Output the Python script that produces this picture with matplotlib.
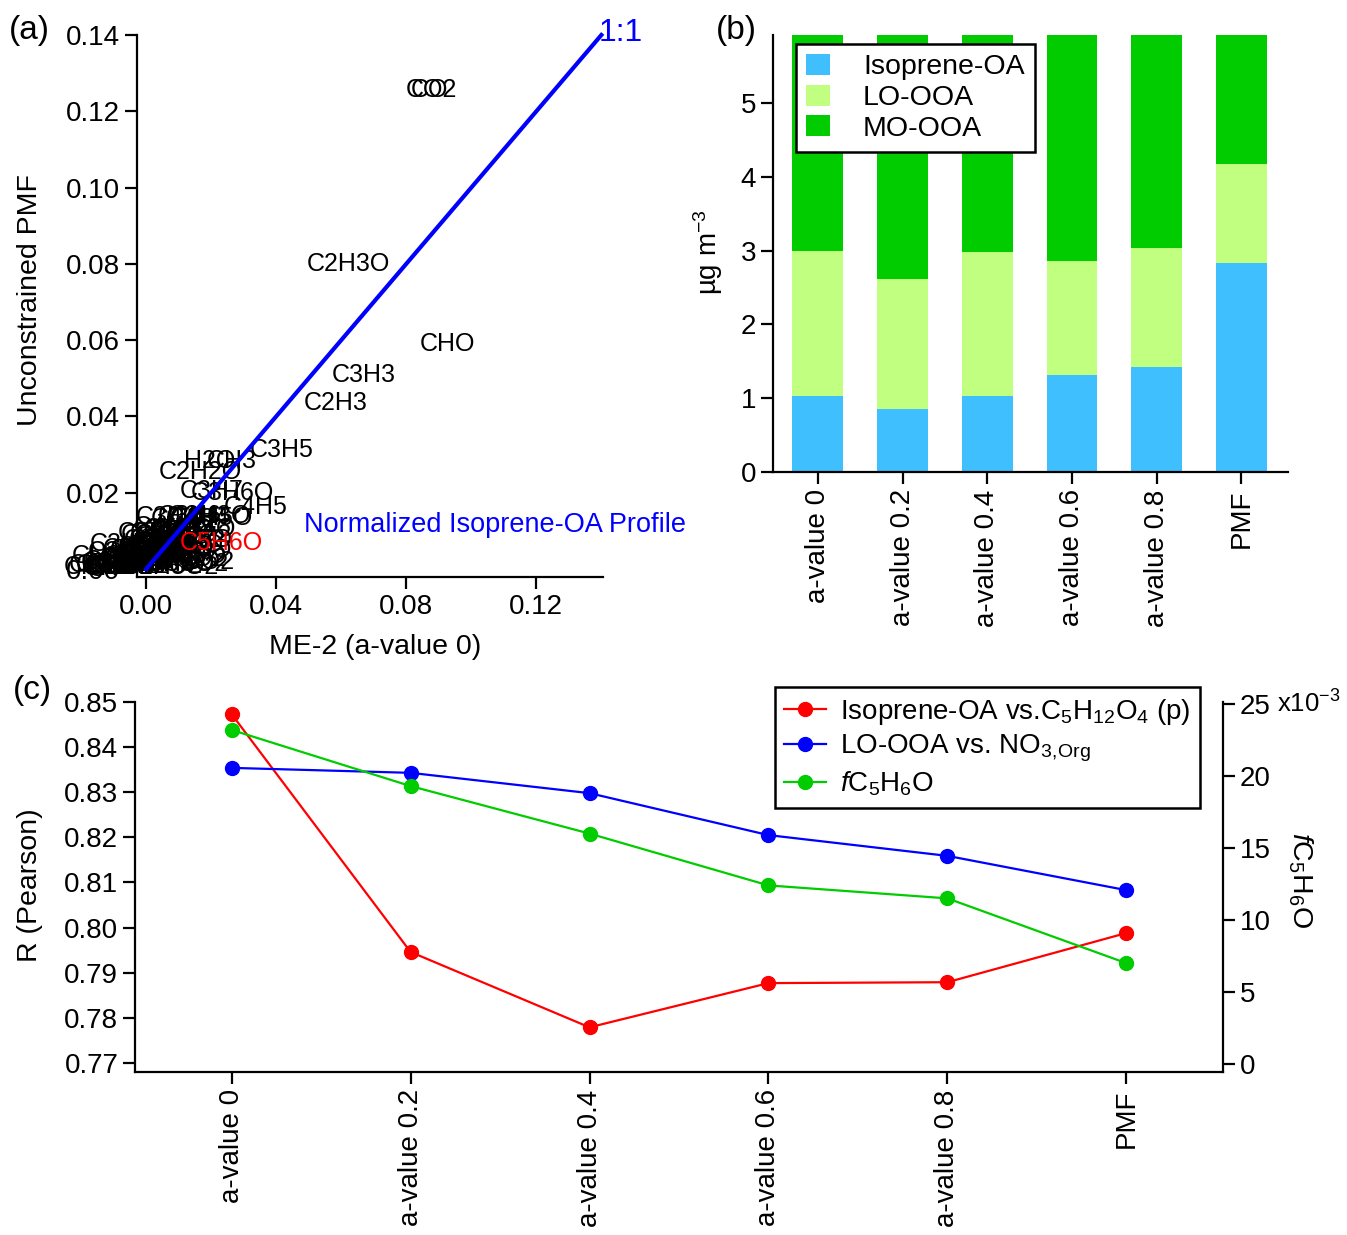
import numpy as np
import matplotlib
matplotlib.use("Agg")
import matplotlib.pyplot as plt

# ---------------- data ----------------
# panel (a): ion labels, ME-2 (a-value 0) vs unconstrained PMF profile
ions = ["CO2", "CO", "C2H3O", "CHO", "C3H3", "C2H3", "C3H5", "H2O", "CH3",
        "C2H2O", "C3H7", "C3H6O", "C4H5", "C3H4", "C4H3", "C3H6", "C4H4",
        "C3H3O", "C3H5O", "C4H6", "C5H7", "C4H4O", "C3H4O", "C6H7",
        "C", "CH", "O", "HO", "CH2", "C2", "C2H", "CHO2", "C2H2", "C3H",
        "CH2O", "C3H2", "C2H4", "CH3O", "C2H5", "C4H", "C4H2", "C3H8",
        "C2O2", "C3H2O", "C4H8", "C2H2O2", "C4H9", "C3H7O", "C5H9",
        "C4H5O", "C6H5", "C2H3O2", "C5H4O", "C6H9", "C7H7", "C4H6O",
        "C5H8O", "C4H3O", "C5H5O", "C4H6O2", "C3H4O2", "C6H6O", "C3O2",
        "C2HO", "CH4O",
        "C5H6", "C5H3", "C6H", "C4H7O", "C5H7O", "C3H5O2", "C6H8", "C7H9",
        "C5H10", "C4H4O2", "C6H5O", "C3H3O2", "C8H9", "C2H4O", "C5H6O2",
        "C7H8", "CH2O2", "C3HO", "C4HO", "CH4", "O2",
        "C5H6O"]
me2_x = [0.0878, 0.0870, 0.0622, 0.0926, 0.0668, 0.0582, 0.0417, 0.0196, 0.0264,
         0.0166, 0.0202, 0.0264, 0.0337, 0.0067, 0.0113, 0.0135, 0.0159,
         0.0196, 0.0202, 0.0060, 0.0110, 0.0150, 0.0040, 0.0120,
         -0.0160, -0.0140, -0.0150, -0.0120, -0.0110, -0.0095, -0.0080, -0.0070, -0.0060, -0.0055,
         -0.0045, -0.0040, -0.0030, -0.0020, -0.0010, -0.0005, 0.0000, 0.0005,
         0.0010, 0.0015, 0.0020, 0.0025, 0.0030, 0.0035, 0.0040,
         0.0045, 0.0050, 0.0074, 0.0060, 0.0065, 0.0070, 0.0080,
         0.0085, 0.0135, 0.0120, 0.0095, 0.0100, 0.0110, -0.0100,
         -0.0130, -0.0085,
         0.0012, -0.0035, -0.0065, 0.0055, 0.0090, 0.0105, 0.0030, 0.0065,
         -0.0015, 0.0115, 0.0140, -0.0025, 0.0020, -0.0050, 0.0125,
         0.0048, -0.0100, -0.0075, 0.0100, -0.0175, -0.0165,
         0.0230]
pmf_y = [0.1255, 0.1255, 0.0800, 0.0590, 0.0508, 0.0434, 0.0313, 0.0282, 0.0282,
         0.0253, 0.0205, 0.0200, 0.0163, 0.0137, 0.0132, 0.0140, 0.0134,
         0.0138, 0.0134, 0.0110, 0.0100, 0.0105, 0.0095, 0.0085,
         0.0002, 0.0003, 0.0001, 0.0004, 0.0006, 0.0005, 0.0010, 0.0008, 0.0015, 0.0020,
         0.0012, 0.0025, 0.0030, 0.0018, 0.0035, 0.0040, 0.0028, 0.0012,
         0.0045, 0.0050, 0.0033, 0.0008, 0.0055, 0.0022, 0.0060,
         0.0038, 0.0065, 0.0006, 0.0042, 0.0028, 0.0070, 0.0052,
         0.0016, 0.0050, 0.0035, 0.0075, 0.0025, 0.0062, 0.0015,
         0.0010, 0.0022,
         0.0058, 0.0008, 0.0030, 0.0020, 0.0045, 0.0012, 0.0075, 0.0085,
         0.0052, 0.0090, 0.0075, 0.0065, 0.0090, 0.0045, 0.0018,
         0.0095, 0.0035, 0.0005, 0.0105, 0.0004, 0.0010,
         0.0068]
highlight_ion = "C5H6O"

# panel (b): factor mass concentrations (ug m-3)
runs = ["a-value 0", "a-value 0.2", "a-value 0.4", "a-value 0.6", "a-value 0.8", "PMF"]
isoprene_oa = [1.03, 0.85, 1.03, 1.31, 1.42, 2.83]
lo_ooa = [1.96, 1.76, 1.95, 1.55, 1.61, 1.34]
mo_ooa = [3.20, 3.60, 3.20, 3.40, 3.20, 2.00]

# panel (c): correlations and fC5H6O
r_iso_c5h12o4 = [0.8473, 0.7946, 0.7779, 0.7877, 0.7879, 0.7988]
r_looa_no3org = [0.8354, 0.8343, 0.8298, 0.8205, 0.8159, 0.8083]
f_c5h6o = [0.0232, 0.0193, 0.0160, 0.0124, 0.0115, 0.0070]

# ---------------- style ----------------
FAM = ["Liberation Sans", "DejaVu Sans"]
plt.rcParams.update({
    "font.family": FAM,
    "font.size": 20,
    "mathtext.fontset": "custom",
    "mathtext.rm": "Liberation Sans",
    "mathtext.it": "Liberation Sans:italic",
    "mathtext.bf": "Liberation Sans:bold",
    "axes.linewidth": 1.6,
    "xtick.major.width": 1.6,
    "ytick.major.width": 1.6,
    "xtick.major.size": 8.5,
    "ytick.major.size": 8.5,
    "xtick.major.pad": 4,
    "ytick.major.pad": 3.5,
    "xtick.direction": "out",
    "ytick.direction": "out",
})

W, H = 1347, 1235
fig = plt.figure(figsize=(W / 100, H / 100), dpi=100)


def px_axes(l, r, t, b):
    return fig.add_axes([l / W, 1 - b / H, (r - l) / W, (b - t) / H])


# ---------------- panel (a) ----------------
axA = px_axes(137, 603, 35, 577)
for name, xv, yv in zip(ions, me2_x, pmf_y):
    red = name == highlight_ion
    axA.text(xv, yv, name, ha="center", va="center", fontsize=18,
             color="red" if red else "black", clip_on=False,
             zorder=6 if red else 3)
axA.plot([0, 0.14], [0, 0.14], color="#0000FF", lw=3, zorder=5, clip_on=False)
axA.text(0.1392, 0.1405, "1:1", color="#0000FF", fontsize=23, ha="left",
         va="center", clip_on=False)
axA.text(0.1073, 0.0116, "Normalized Isoprene-OA Profile", color="#0000FF",
         fontsize=19.5, ha="center", va="center")
axA.set_xlim(-0.0028, 0.1405)
axA.set_ylim(-0.0021, 0.14)
axA.set_xticks([0, 0.04, 0.08, 0.12])
axA.set_xticklabels(["0.00", "0.04", "0.08", "0.12"])
axA.set_yticks(np.arange(0, 0.141, 0.02))
axA.set_yticklabels(["%.2f" % v for v in np.arange(0, 0.141, 0.02)])
for s in ("top", "right"):
    axA.spines[s].set_visible(False)
fig.text(375 / W, 1 - 647 / H, "ME-2 (a-value 0)", ha="center", va="center",
         fontsize=20.5)
fig.text(30 / W, 1 - 300 / H, "Unconstrained PMF", ha="center", va="center",
         rotation=90, fontsize=20.5)

# ---------------- panel (b) ----------------
axB = px_axes(773, 1288, 35, 472)
xb = np.arange(len(runs))
c_iso, c_lo, c_mo = "#40BFFF", "#C0FF80", "#00CC00"
axB.bar(xb, isoprene_oa, 0.6, color=c_iso, label="Isoprene-OA")
axB.bar(xb, lo_ooa, 0.6, bottom=isoprene_oa, color=c_lo, label="LO-OOA")
axB.bar(xb, mo_ooa, 0.6, bottom=np.add(isoprene_oa, lo_ooa), color=c_mo,
        label="MO-OOA")
axB.set_xlim(-0.53, 5.55)
axB.set_ylim(0, 5.92)
axB.set_yticks(range(0, 6))
axB.set_xticks(xb)
axB.set_xticklabels(runs, rotation=90)
for s in ("top", "right"):
    axB.spines[s].set_visible(False)
legB = axB.legend(loc="upper left", bbox_to_anchor=(0.0447, 0.979),
                  frameon=True, fancybox=False, framealpha=1, edgecolor="black",
                  handlelength=0.85, handleheight=0.75, handletextpad=1.15,
                  borderpad=0.35, labelspacing=0.15, borderaxespad=0,
                  fontsize=20.5)
legB.get_frame().set_linewidth(1.8)
fig.text(708 / W, 1 - 252 / H, "µg m$^{-3}$", ha="center", va="center",
         rotation=90)

# ---------------- panel (c) ----------------
axC = px_axes(135, 1223, 702, 1072)
axC2 = axC.twinx()
xc = np.arange(len(runs))
l1, = axC.plot(xc, r_iso_c5h12o4, "-o", color="#FF0000", lw=1.6, ms=10)
l2, = axC.plot(xc, r_looa_no3org, "-o", color="#0000FF", lw=1.6, ms=10)
l3, = axC2.plot(xc, f_c5h6o, "-o", color="#00CC00", lw=1.6, ms=10)
axC.set_xlim(-0.54, 5.54)
axC.set_ylim(0.768, 0.85)
axC.set_yticks(np.arange(0.77, 0.8501, 0.01))
axC.set_yticklabels(["%.2f" % v for v in np.arange(0.77, 0.8501, 0.01)])
axC2.set_ylim(-0.00056, 0.02514)
axC2.set_yticks([0, 0.005, 0.010, 0.015, 0.020, 0.025])
axC2.set_yticklabels(["0", "5", "10", "15", "20", "25"])
axC.set_xticks(xc)
axC.set_xticklabels(runs, rotation=90)
axC.spines["top"].set_visible(False)
axC.spines["right"].set_visible(False)
axC2.spines["top"].set_visible(False)
axC2.spines["left"].set_visible(False)
axC2.spines["bottom"].set_visible(False)
axC2.annotate("x10$^{-3}$", xy=(1.05, 0.025), xycoords=("axes fraction", "data"),
              ha="left", va="center", fontsize=18.5, annotation_clip=False)
legC = axC.legend([l1, l2, l3],
                  ["Isoprene-OA vs.C$_5$H$_{12}$O$_4$ (p)",
                   "LO-OOA vs. NO$_{3,\\!\\mathrm{Org}}$",
                   "$f$C$_5$H$_6$O"],
                  loc="upper right", bbox_to_anchor=(0.979, 1.04),
                  frameon=True, fancybox=False, framealpha=1, edgecolor="black",
                  handlelength=1.5, handletextpad=0.5, borderpad=0.35,
                  labelspacing=0.2, borderaxespad=0, fontsize=20)
legC.get_frame().set_linewidth(1.8)
legC.set_zorder(10)
fig.text(30 / W, 1 - 885 / H, "R (Pearson)", ha="center", va="center",
         rotation=90, fontsize=20.5)
fig.text(1300 / W, 1 - 880 / H, "$f$C$_5$H$_6$O", ha="center", va="center",
         rotation=270, fontsize=20.5)

# panel letters
fig.text(9 / W, 1 - 30 / H, "(a)", ha="left", va="center", fontsize=24)
fig.text(716 / W, 1 - 30 / H, "(b)", ha="left", va="center", fontsize=24)
fig.text(13 / W, 1 - 690 / H, "(c)", ha="left", va="center", fontsize=24)

fig.savefig("out.png", dpi=100)
